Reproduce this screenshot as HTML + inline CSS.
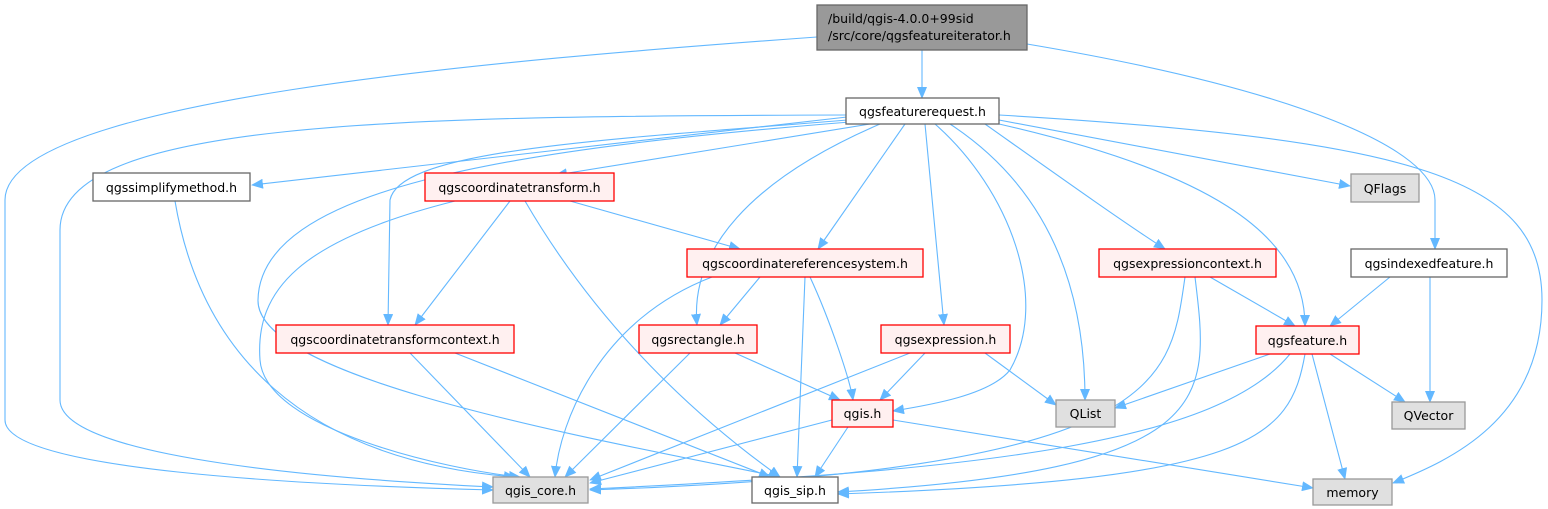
<!DOCTYPE html>
<html><head><meta charset="utf-8"><style>
html,body{margin:0;padding:0;background:#fff;}
svg{display:block;}
text{font-family:"DejaVu Sans","Liberation Sans",sans-serif;font-size:12.5px;fill:#000;}
</style></head><body>
<svg width="1548" height="509" viewBox="0 0 1548 509" xmlns="http://www.w3.org/2000/svg">
<defs>
<marker id="a" markerWidth="12" markerHeight="10" refX="11" refY="5" orient="auto" markerUnits="userSpaceOnUse">
<path d="M0,0 L12,5 L0,10 z" fill="#63b8ff"/>
</marker>
</defs>
<g fill="none" stroke="#63b8ff" stroke-width="1.1" marker-end="url(#a)">
<path d="M922,50 L922,98"/>
<path d="M817,37 C500,60 5,100 5,200 L5,420 C5,470 300,485 493,490"/>
<path d="M1027,44 C1300,90 1435,150 1435,200 L1435,249"/>
<path d="M847,117 L252,185"/>
<path d="M870,124 L556,175"/>
<path d="M999,120 L1350,186"/>
<path d="M999,115 C1420,140 1542,180 1542,300 C1542,420 1450,460 1393,483"/>
<path d="M905,124 L818,249"/>
<path d="M925,124 L944,325"/>
<path d="M985,124 C1050,170 1120,220 1165,249"/>
<path d="M999,124 C1200,170 1305,230 1305,326"/>
<path d="M950,124 C1020,170 1085,250 1085,400"/>
<path d="M935,124 C1010,190 1050,300 1010,370 C990,395 930,405 893,411"/>
<path d="M880,124 C750,180 690,250 697,325"/>
<path d="M848,120 C600,140 400,150 390,200 L388,325"/>
<path d="M847,115 C400,116 60,120 60,230 L60,400 C60,460 350,480 493,487"/>
<path d="M850,122 C500,150 260,190 258,300 C256,380 600,440 780,477"/>
<path d="M570,201 L740,249"/>
<path d="M510,201 L415,325"/>
<path d="M525,201 C600,330 700,420 780,477"/>
<path d="M455,201 C300,240 255,290 260,360 C265,430 450,470 520,477"/>
<path d="M175,201 C200,350 300,460 515,477"/>
<path d="M760,277 L720,325"/>
<path d="M810,277 C830,320 850,380 853,400"/>
<path d="M805,277 L797,477"/>
<path d="M712,277 C600,320 560,420 555,477"/>
<path d="M1210,277 L1295,326"/>
<path d="M1195,277 C1210,400 1220,470 838,492"/>
<path d="M1185,277 C1170,380 1170,470 590,490"/>
<path d="M1390,277 L1330,326"/>
<path d="M1430,277 L1430,402"/>
<path d="M410,353 L530,477"/>
<path d="M455,353 L770,477"/>
<path d="M735,353 L840,400"/>
<path d="M690,353 L565,477"/>
<path d="M925,353 L880,400"/>
<path d="M985,353 L1056,405"/>
<path d="M910,353 L590,480"/>
<path d="M1270,354 L1115,408"/>
<path d="M1330,354 L1405,402"/>
<path d="M1312,354 L1345,479"/>
<path d="M1305,354 C1290,440 1250,480 838,494"/>
<path d="M1290,354 C1220,440 1000,470 590,489"/>
<path d="M832,420 L590,483"/>
<path d="M848,427 L815,477"/>
<path d="M893,420 L1313,488"/>
</g>
<g stroke-width="1.3">
<rect x="817" y="5" width="210" height="45" fill="#999" stroke="#666"/>
<rect x="846" y="98" width="153" height="26" fill="#fff" stroke="#666"/>
<rect x="93" y="173" width="157" height="28" fill="#fff" stroke="#666"/>
<rect x="425" y="173" width="189" height="28" fill="#fff0f0" stroke="#f00"/>
<rect x="1351" y="174" width="68" height="28" fill="#e0e0e0" stroke="#999"/>
<rect x="687" y="249" width="236" height="28" fill="#fff0f0" stroke="#f00"/>
<rect x="1099" y="249" width="177" height="28" fill="#fff0f0" stroke="#f00"/>
<rect x="1351" y="249" width="156" height="28" fill="#fff" stroke="#666"/>
<rect x="276" y="325" width="238" height="28" fill="#fff0f0" stroke="#f00"/>
<rect x="639" y="325" width="118" height="28" fill="#fff0f0" stroke="#f00"/>
<rect x="881" y="325" width="129" height="28" fill="#fff0f0" stroke="#f00"/>
<rect x="1256" y="326" width="103" height="28" fill="#fff0f0" stroke="#f00"/>
<rect x="832" y="400" width="61" height="27" fill="#fff0f0" stroke="#f00"/>
<rect x="1056" y="400" width="59" height="27" fill="#e0e0e0" stroke="#999"/>
<rect x="1392" y="402" width="73" height="27" fill="#e0e0e0" stroke="#999"/>
<rect x="493" y="477" width="95" height="26" fill="#e0e0e0" stroke="#999"/>
<rect x="752" y="477" width="86" height="26" fill="#fff" stroke="#666"/>
<rect x="1313" y="479" width="79" height="26" fill="#e0e0e0" stroke="#999"/>
</g>
<g>
<text x="828" y="23">/build/qgis-4.0.0+99sid</text>
<text x="828" y="40">/src/core/qgsfeatureiterator.h</text>
<text x="922.5" y="116" text-anchor="middle">qgsfeaturerequest.h</text>
<text x="171.5" y="192" text-anchor="middle">qgssimplifymethod.h</text>
<text x="519.5" y="192" text-anchor="middle">qgscoordinatetransform.h</text>
<text x="1385" y="193" text-anchor="middle">QFlags</text>
<text x="805" y="268" text-anchor="middle">qgscoordinatereferencesystem.h</text>
<text x="1187.5" y="268" text-anchor="middle">qgsexpressioncontext.h</text>
<text x="1429" y="268" text-anchor="middle">qgsindexedfeature.h</text>
<text x="395" y="344" text-anchor="middle">qgscoordinatetransformcontext.h</text>
<text x="698" y="344" text-anchor="middle">qgsrectangle.h</text>
<text x="945.5" y="344" text-anchor="middle">qgsexpression.h</text>
<text x="1307.5" y="345" text-anchor="middle">qgsfeature.h</text>
<text x="862.5" y="418" text-anchor="middle">qgis.h</text>
<text x="1085.5" y="418" text-anchor="middle">QList</text>
<text x="1428.5" y="420" text-anchor="middle">QVector</text>
<text x="540.5" y="495" text-anchor="middle">qgis_core.h</text>
<text x="795" y="495" text-anchor="middle">qgis_sip.h</text>
<text x="1352.5" y="497" text-anchor="middle">memory</text>
</g>
</svg>
</body></html>
